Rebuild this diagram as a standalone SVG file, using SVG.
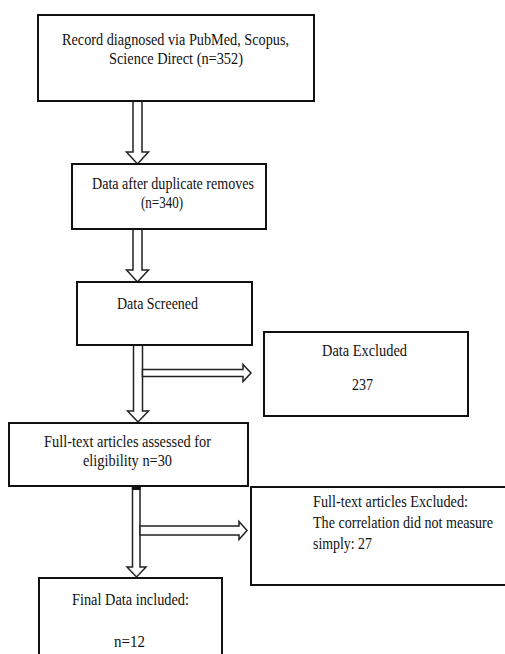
<svg xmlns="http://www.w3.org/2000/svg" width="505" height="654" viewBox="0 0 505 654">
<style>
.box{fill:#fff;stroke:#111;stroke-width:2}
.arr{fill:#fff;stroke:#222;stroke-width:1.5;stroke-linejoin:miter}
.t{font-family:'Liberation Serif','Times New Roman',serif;font-size:16px;fill:#111}
</style>
<rect width="505" height="654" fill="#fff"/>
<g id="connectors">
<polygon class="arr" points="133,101 142,101 142,152 148.5,152 137.5,164 126.5,152 133,152"/>
<polygon class="arr" points="133,229 142,229 142,270 148.5,270 137.5,282 126.5,270 133,270"/>
<polygon class="arr" points="133.5,345 142.5,345 142.5,411 148.5,411 138,422 127.5,411 133.5,411"/>
<polygon class="arr" points="142.5,369.5 243,369.5 243,364.5 251,373 243,381.5 243,376.5 142.5,376.5"/>
<polygon class="arr" points="132.5,486 140,486 140,567 146,567 136.5,577 127,567 132.5,567"/>
<rect x="132" y="486" width="8.5" height="4" fill="#111"/>
<polygon class="arr" points="140,526 239,526 239,521.5 247,530.5 239,539.5 239,535 140,535"/>
</g>
<g id="record">
<rect class="box" x="38" y="15" width="276" height="86"/>
<text class="t" x="62" y="45" textLength="227" lengthAdjust="spacingAndGlyphs">Record diagnosed via PubMed, Scopus,</text>
<text class="t" x="109" y="64" textLength="134" lengthAdjust="spacingAndGlyphs">Science Direct (n=352)</text>
</g>
<g id="duplicates">
<rect class="box" x="72" y="164" width="194" height="65"/>
<text class="t" x="92" y="189" textLength="162" lengthAdjust="spacingAndGlyphs">Data after duplicate removes</text>
<text class="t" x="141" y="208" textLength="42" lengthAdjust="spacingAndGlyphs">(n=340)</text>
</g>
<g id="screened">
<rect class="box" x="77" y="282" width="175" height="63"/>
<text class="t" x="117" y="309" textLength="81" lengthAdjust="spacingAndGlyphs">Data Screened</text>
</g>
<g id="excluded">
<rect class="box" x="264" y="332" width="204" height="84"/>
<text class="t" x="322" y="356" textLength="85" lengthAdjust="spacingAndGlyphs">Data Excluded</text>
<text class="t" x="352" y="390" textLength="21" lengthAdjust="spacingAndGlyphs">237</text>
</g>
<g id="fulltext">
<rect class="box" x="9" y="423" width="239" height="63"/>
<text class="t" x="44" y="447" textLength="167" lengthAdjust="spacingAndGlyphs">Full-text articles assessed for</text>
<text class="t" x="83" y="466" textLength="89" lengthAdjust="spacingAndGlyphs">eligibility n=30</text>
</g>
<g id="fulltext-excluded">
<rect class="box" x="251" y="487" width="262" height="98"/>
<text class="t" x="313" y="507" textLength="155" lengthAdjust="spacingAndGlyphs">Full-text articles Excluded:</text>
<text class="t" x="313" y="528" textLength="180" lengthAdjust="spacingAndGlyphs">The correlation did not measure</text>
<text class="t" x="313" y="549" textLength="59" lengthAdjust="spacingAndGlyphs">simply: 27</text>
</g>
<g id="final">
<rect class="box" x="39" y="578" width="183" height="90"/>
<text class="t" x="72" y="605" textLength="117" lengthAdjust="spacingAndGlyphs">Final Data included:</text>
<text class="t" x="114" y="647" textLength="31" lengthAdjust="spacingAndGlyphs">n=12</text>
</g>
</svg>
